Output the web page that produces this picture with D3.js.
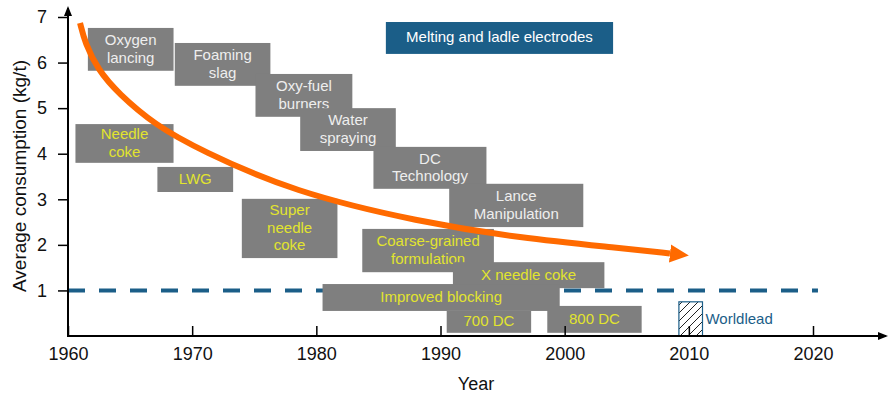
<!DOCTYPE html>
<html>
<head>
<meta charset="UTF-8">
<style>
  body { margin: 0; background: #fff; }
  svg { display: block; font-family: "Liberation Sans", Arial, sans-serif; }
</style>
</head>
<body>
<svg></svg>
<script src="https://d3js.org/d3.v7.min.js"></script>
<script>

let width = 892, height = 397;

// years on the x axis, consumption ticks on y
let yearTicks = [1960, 1970, 1980, 1990, 2000, 2010, 2020];
let valueTicks = [1, 2, 3, 4, 5, 6, 7];

// the orange trend curve (year, kg/t)
let curveYears  = [1960.97, 1961.37, 1962.42, 1964.03, 1967.01, 1970.63, 1978.12, 1988.35, 1996.40, 2004.46, 2008.48];
let curveValues = [6.87,    6.43,    5.84,    5.33,    4.63,    4.08,    3.16,    2.50,    2.15,    1.93,    1.81];

// milestone boxes: label, year span, value span, kind
let boxLabels = ["Oxygen\nlancing", "Foaming\nslag", "Oxy-fuel\nburners", "Water\nspraying", "DC\nTechnology",
  "Lance\nManipulation", "Needle\ncoke", "LWG", "Super\nneedle\ncoke", "Coarse-grained\nformulation",
  "X needle coke", "Improved blocking", "700 DC", "800 DC"];
let boxStart = [1961.6, 1968.6, 1975.1, 1978.7, 1984.6, 1990.7, 1960.6, 1967.2, 1974.0, 1983.7, 1991.0, 1980.5, 1990.5, 1998.6];
let boxEnd   = [1968.5, 1976.3, 1982.9, 1986.4, 1993.7, 2001.5, 1968.5, 1973.3, 1981.7, 1994.3, 2003.2, 1999.6, 1997.3, 2006.2];
let boxTop   = [6.76, 6.43, 5.75, 5.00, 4.15, 3.34, 4.65, 3.71, 3.01, 2.35, 1.62, 1.14, 0.55, 0.66];
let boxBottom= [5.82, 5.49, 4.81, 4.06, 3.23, 2.39, 3.80, 3.16, 1.71, 1.40, 1.05, 0.55, 0.07, 0.07];
let boxKind  = ["process", "process", "process", "process", "process", "process",
  "material", "material", "material", "material", "material", "material", "material", "material"];

let legendLabel = "Melting and ladle electrodes";
let legendSpan = [1985.6, 2003.9, 6.89, 6.19];

let targetValue = 1;
let targetYears = [1960, 2020.4];

let worldleadLabel = "Worldlead";
let worldleadSpan = [2009.2, 2011.1, 0.75, 0];

let svg = d3.select("svg")
    .attr("width", width)
    .attr("height", height);

let x = d3.scaleLinear().domain([1960, 2020]).range([68, 813]);
let y = d3.scaleLinear().domain([0, 7]).range([336, 17]);

let grey = "#7f7f7f", blue = "#1b5e88", orange = "#ff6a00", yellow = "#e2e42e";

let defs = svg.append("defs");

defs.append("marker")
    .attr("id", "arrowhead")
    .attr("viewBox", "0 -10 20 20")
    .attr("refX", 0)
    .attr("refY", 0)
    .attr("markerUnits", "userSpaceOnUse")
    .attr("markerWidth", 20)
    .attr("markerHeight", 20)
    .attr("orient", "auto")
    .append("path")
        .attr("d", "M0,-9 L19,0 L0,9 Z")
        .attr("fill", orange);

defs.append("marker")
    .attr("id", "axisarrow")
    .attr("viewBox", "0 -5 10 10")
    .attr("refX", 8)
    .attr("refY", 0)
    .attr("markerUnits", "userSpaceOnUse")
    .attr("markerWidth", 10)
    .attr("markerHeight", 10)
    .attr("orient", "auto")
    .append("path")
        .attr("d", "M0,-4 L10,0 L0,4 Z")
        .attr("fill", "#000");

defs.append("pattern")
    .attr("id", "hatch")
    .attr("patternUnits", "userSpaceOnUse")
    .attr("width", 8)
    .attr("height", 8)
    .append("path")
        .attr("d", "M-2,2 L2,-2 M0,8 L8,0 M6,10 L10,6")
        .attr("stroke", "#222")
        .attr("stroke-width", 1);

// dashed target line
svg.append("line")
    .attr("x1", x(targetYears[0]))
    .attr("x2", x(targetYears[1]))
    .attr("y1", y(targetValue))
    .attr("y2", y(targetValue))
    .attr("stroke", blue)
    .attr("stroke-width", 4)
    .attr("stroke-dasharray", "17,14");

// boxes
let boxes = boxLabels.map((label, i) => ({
    label: label, x0: boxStart[i], x1: boxEnd[i], y0: boxTop[i], y1: boxBottom[i], kind: boxKind[i]
}));

let lh = 17.5;

function addText(g, d, color) {
    let lines = d.label.split("\n");
    let cx = (x(d.x0) + x(d.x1)) / 2;
    let cy = (y(d.y0) + y(d.y1)) / 2;
    g.append("text")
        .attr("text-anchor", "middle")
        .attr("font-size", 15)
        .attr("fill", color)
        .selectAll("tspan")
        .data(lines)
        .enter().append("tspan")
            .attr("x", cx)
            .attr("y", (l, j) => cy + 4.5 + (j - (lines.length - 1) / 2) * lh)
            .text(l => l);
}

let boxG = svg.append("g").selectAll("g")
    .data(boxes)
    .enter().append("g");

boxG.append("rect")
    .attr("x", d => x(d.x0))
    .attr("y", d => y(d.y0))
    .attr("width", d => x(d.x1) - x(d.x0))
    .attr("height", d => y(d.y1) - y(d.y0))
    .attr("fill", grey);

boxG.each(function(d) {
    addText(d3.select(this), d, d.kind == "process" ? "#eeeeee" : yellow);
});

// legend box at the top
let lg = svg.append("g");
let ld = { label: legendLabel, x0: legendSpan[0], x1: legendSpan[1], y0: legendSpan[2], y1: legendSpan[3] };
lg.append("rect")
    .attr("x", x(ld.x0))
    .attr("y", y(ld.y0))
    .attr("width", x(ld.x1) - x(ld.x0))
    .attr("height", y(ld.y1) - y(ld.y0))
    .attr("fill", blue);
addText(lg, ld, "#ffffff");

// worldlead marker
svg.append("rect")
    .attr("x", x(worldleadSpan[0]))
    .attr("y", y(worldleadSpan[2]))
    .attr("width", x(worldleadSpan[1]) - x(worldleadSpan[0]))
    .attr("height", y(worldleadSpan[3]) - y(worldleadSpan[2]))
    .attr("fill", "url(#hatch)")
    .attr("stroke", blue)
    .attr("stroke-width", 1.2);

svg.append("text")
    .attr("x", x(worldleadSpan[1]) + 3)
    .attr("y", (y(worldleadSpan[2]) + y(worldleadSpan[3])) / 2 + 5)
    .attr("font-size", 15)
    .attr("fill", blue)
    .text(worldleadLabel);

// axes
let xAxis = svg.append("g")
    .attr("transform", "translate(0," + y(0) + ")")
    .call(d3.axisBottom(x).tickValues(yearTicks).tickFormat(d3.format("d")).tickSize(-10).tickPadding(11));
xAxis.select(".domain").remove();
xAxis.selectAll("line").attr("stroke-width", 1.5);
xAxis.selectAll("text").attr("font-size", 18).attr("fill", "#111").attr("font-family", "Liberation Sans, Arial, sans-serif");

let yAxis = svg.append("g")
    .attr("transform", "translate(" + x(1960) + ",0)")
    .call(d3.axisLeft(y).tickValues(valueTicks).tickFormat(d3.format("d")).tickSize(10).tickPadding(11));
yAxis.select(".domain").remove();
yAxis.selectAll("line").attr("stroke-width", 1.5);
yAxis.selectAll("text").attr("font-size", 18).attr("fill", "#111").attr("font-family", "Liberation Sans, Arial, sans-serif");

svg.append("line")
    .attr("x1", x(1960)).attr("y1", y(0))
    .attr("x2", 886).attr("y2", y(0))
    .attr("stroke", "#000").attr("stroke-width", 2)
    .attr("marker-end", "url(#axisarrow)");

svg.append("line")
    .attr("x1", x(1960)).attr("y1", y(0) + 1)
    .attr("x2", x(1960)).attr("y2", 8)
    .attr("stroke", "#000").attr("stroke-width", 2)
    .attr("marker-end", "url(#axisarrow)");

svg.append("text")
    .attr("x", 476)
    .attr("y", 390)
    .attr("text-anchor", "middle")
    .attr("font-size", 18)
    .attr("fill", "#111")
    .text("Year");

svg.append("text")
    .attr("transform", "translate(26,176) rotate(-90)")
    .attr("text-anchor", "middle")
    .attr("font-size", 19)
    .attr("fill", "#111")
    .text("Average consumption (kg/t)");

// orange trend curve
let curvePts = curveYears.map((yr, i) => [yr, curveValues[i]]);
let line = d3.line()
    .x(d => x(d[0]))
    .y(d => y(d[1]))
    .curve(d3.curveBasis);

svg.append("path")
    .datum(curvePts)
    .attr("d", line)
    .attr("fill", "none")
    .attr("stroke", orange)
    .attr("stroke-width", 6)
    .attr("marker-end", "url(#arrowhead)");

</script>
</body>
</html>
